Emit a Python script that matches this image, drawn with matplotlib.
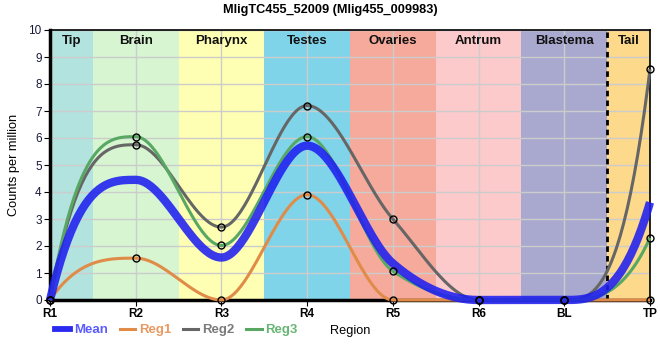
import numpy as np
import matplotlib
matplotlib.use("Agg")
import matplotlib.pyplot as plt
from matplotlib.lines import Line2D

plt.rcParams["font.family"] = ["Liberation Sans", "DejaVu Sans"]

title = "MligTC455_52009 (Mlig455_009983)"
positions = ["R1", "R2", "R3", "R4", "R5", "R6", "BL", "TP"]
regions = ["Tip", "Brain", "Pharynx", "Testes", "Ovaries", "Antrum", "Blastema", "Tail"]
region_colors = ["#b3e3df", "#d6f5d0", "#ffffb3", "#7fd4ea", "#f5aa9c", "#fccacb", "#a9a8cf", "#fdd98b"]
reg1 = [0, 1.55, 0, 3.9, 0, 0, 0, 0]
reg2 = [0, 5.75, 2.7, 7.2, 3.0, 0, 0, 8.55]
reg3 = [0, 6.05, 2.02, 6.05, 1.07, 0, 0, 2.3]
mean = list(np.mean([reg1, reg2, reg3], axis=0))


def monotone(x, y, n=50):
    x = np.asarray(x, float); y = np.asarray(y, float)
    m = len(x)
    t = np.zeros(m)
    for i in range(1, m - 1):
        h0 = x[i] - x[i - 1]; h1 = x[i + 1] - x[i]
        s0 = (y[i] - y[i - 1]) / h0; s1 = (y[i + 1] - y[i]) / h1
        p = (s0 * h1 + s1 * h0) / (h0 + h1)
        t[i] = (np.sign(s0) + np.sign(s1)) * min(abs(s0), abs(s1), 0.5 * abs(p))
    t[0] = 3 * (y[1] - y[0]) / (x[1] - x[0]) - 2 * t[1]
    t[-1] = 3 * (y[-1] - y[-2]) / (x[-1] - x[-2]) - 2 * t[-2]
    xs, ys = [], []
    for i in range(m - 1):
        h = x[i + 1] - x[i]
        u = np.linspace(0, 1, n)
        h00 = 2 * u**3 - 3 * u**2 + 1
        h10 = u**3 - 2 * u**2 + u
        h01 = -2 * u**3 + 3 * u**2
        h11 = u**3 - u**2
        xs.append(x[i] + u * h)
        ys.append(h00 * y[i] + h10 * h * t[i] + h01 * y[i + 1] + h11 * h * t[i + 1])
    return np.concatenate(xs), np.concatenate(ys)


fig = plt.figure(figsize=(6.6, 3.6), dpi=100)
ax = fig.add_axes([50 / 660, 60 / 360, 600 / 660, 270 / 360])
xi = np.arange(len(positions))

for i, (name, c) in enumerate(zip(regions, region_colors)):
    lo = max(i - 0.5, 0); hi = min(i + 0.5, len(positions) - 1)
    ax.axvspan(lo, hi, color=c, zorder=0, lw=0)
    ax.text((lo + hi) / 2, 9.6, name, ha="center", va="center", fontsize=9.5,
            fontweight="bold", color="#111111", zorder=5)

ax.set_xlim(0, len(positions) - 1)
ax.set_ylim(0, 10)
ax.set_yticks(range(0, 11))
ax.set_xticks(xi)
ax.set_xticklabels(positions)
ax.grid(True, color="#cccccc", lw=1, zorder=1)
ax.set_axisbelow(True)
ax.axvline(6.5, color="black", ls=(0, (2, 1.5)), lw=2, zorder=3)

series = [("Reg1", reg1, "#e08c48"), ("Reg2", reg2, "#666666"), ("Reg3", reg3, "#58a864")]
for name, vals, c in series:
    sx, sy = monotone(xi, vals)
    ax.plot(sx, sy, color=c, lw=2.2, zorder=4, clip_on=False, solid_capstyle="butt")
mx, my = monotone(xi, mean)
ax.plot(mx, my, color="#1f1ff0", alpha=0.88, lw=6, zorder=6, clip_on=False, solid_capstyle="butt")
for name, vals, c in series:
    ax.plot(xi, vals, ls="none", marker="o", ms=5, mfc="none", mec="black", mew=1,
            zorder=7, clip_on=False)

for s in ["top", "right"]:
    ax.spines[s].set_linewidth(1.2)
for s in ["left", "bottom"]:
    ax.spines[s].set_linewidth(2.5)
ax.tick_params(axis="x", labelsize=8.5, length=4, color="black", pad=2)
ax.tick_params(axis="y", labelsize=8.5, labelcolor="#1a1a3a", length=4, pad=2)
for lab in ax.get_xticklabels():
    lab.set_fontweight("bold")
ax.set_ylabel("Counts per million", fontsize=9.2)
ax.yaxis.set_label_coords(-0.05, 0.5)

fig.text(0.5, 1 - 10 / 360, title, ha="center", va="center", fontsize=9.2, fontweight="bold")
fig.text(330 / 660, 1 - 331 / 360, "Region", ha="left", va="center", fontsize=9.2)

handles = [Line2D([], [], color="#2a2af0", lw=4.2),
           Line2D([], [], color="#e08c48", lw=2.2),
           Line2D([], [], color="#666666", lw=2.2),
           Line2D([], [], color="#58a864", lw=2.2)]
labels = ["Mean", "Reg1", "Reg2", "Reg3"]
leg = fig.legend(handles, labels, loc="center left", bbox_to_anchor=(55 / 660, 1 - 330 / 360),
                 ncol=4, frameon=False, fontsize=9.5, handlelength=1.15, handletextpad=0.3,
                 columnspacing=0.9, borderpad=0, borderaxespad=0)
for txt, c in zip(leg.get_texts(), ["#5b5bff", "#e89a62", "#7a7a7a", "#68b676"]):
    txt.set_color(c)
    txt.set_fontweight("bold")

fig.savefig("out.png", dpi=100)
